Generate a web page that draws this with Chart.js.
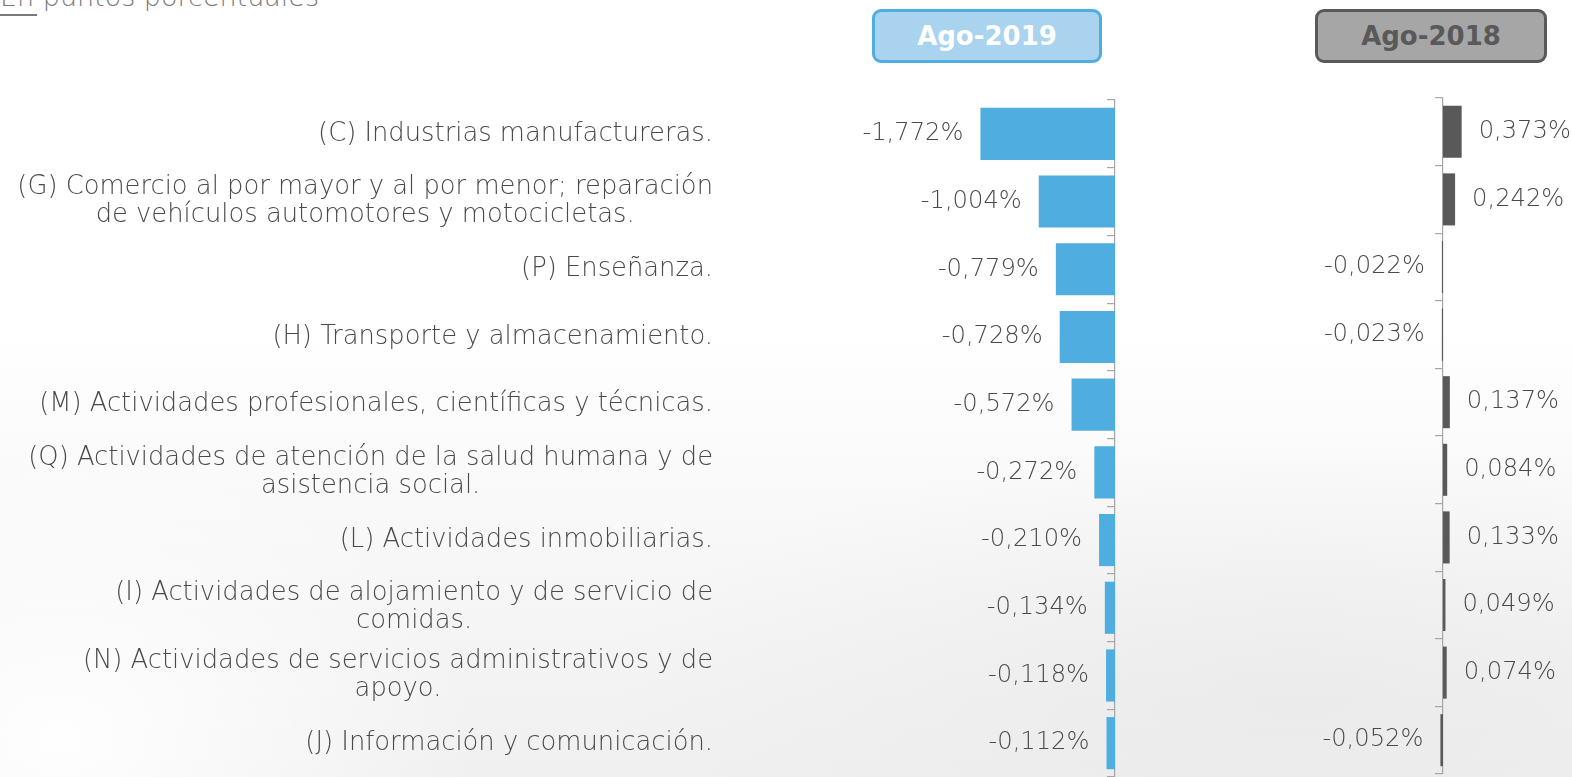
<!DOCTYPE html>
<html>
<head>
<meta charset="utf-8">
<script src="https://cdn.jsdelivr.net/npm/chart.js@4/dist/chart.umd.min.js"></script>
<style>
  html, body { margin: 0; padding: 0; width: 1572px; height: 777px; overflow: hidden; }
  body {
    position: relative;
    background:
      radial-gradient(ellipse 420px 300px at 60px 740px, rgba(255,255,255,0.95), rgba(255,255,255,0) 100%),
      radial-gradient(ellipse 700px 260px at 1300px 700px, rgba(228,228,230,0.5), rgba(228,228,230,0) 100%),
      linear-gradient(to bottom, #ffffff 0%, #ffffff 42%, #f5f5f5 80%, #f0f0f0 100%);
    font-family: "DejaVu Sans", sans-serif;
  }
  #note { position: absolute; left: 0; top: -17px; font-size: 27px; line-height: 27px; color: #7a7a7a; font-weight: 200; white-space: nowrap; }
  #noteline { position: absolute; left: 0; top: 14px; width: 37px; height: 2px; background: #7a7a7a; }
  .hdr { position: absolute; top: 9px; height: 48px; box-sizing: content-box; border-radius: 9px; border-width: 3px; border-style: solid;
         font-family: "DejaVu Sans", sans-serif; font-weight: 700; font-size: 26px; line-height: 48px; text-align: center; }
  #h1 { left: 872px; width: 224px; background: #a9d3ee; border-color: #4fade0; color: #ffffff; }
  #h2 { left: 1315px; width: 226px; background: #a6a6a6; border-color: #595959; color: #595959; }
  .wrap { position: absolute; top: 0; height: 777px; }
  #w1 { left: 0; width: 1130px; }
  #w2 { left: 1130px; width: 442px; }
</style>
</head>
<body>
<div id="note">En puntos porcentuales</div>
<div id="noteline"></div>
<div class="hdr" id="h1">Ago-2019</div>
<div class="hdr" id="h2">Ago-2018</div>
<div class="wrap" id="w1"><canvas id="c1" width="1130" height="777"></canvas></div>
<div class="wrap" id="w2"><canvas id="c2" width="442" height="777"></canvas></div>
<script>
// ---- data ----
const categories = [
  ['(C) Industrias manufactureras.'],
  ['(G) Comercio al por mayor y al por menor; reparación', 'de vehículos automotores y motocicletas.'],
  ['(P) Enseñanza.'],
  ['(H) Transporte y almacenamiento.'],
  ['(M) Actividades profesionales, científicas y técnicas.'],
  ['(Q) Actividades de atención de la salud humana y de', 'asistencia social.'],
  ['(L) Actividades inmobiliarias.'],
  ['(I) Actividades de alojamiento y de servicio de', 'comidas.'],
  ['(N) Actividades de servicios administrativos y de', 'apoyo.'],
  ['(J) Información y comunicación.']
];
const values2019 = [-1.772, -1.004, -0.779, -0.728, -0.572, -0.272, -0.210, -0.134, -0.118, -0.112];
const values2018 = [0.373, 0.242, -0.022, -0.023, 0.137, 0.084, 0.133, 0.049, 0.074, -0.052];
const seriesNames = ['Ago-2019', 'Ago-2018'];

// ---- styling ----
const TEXT_COLOR = '#4a4a4a';
const AXIS_COLOR = '#a6a6a6';
const FAMILY = '"DejaVu Sans", sans-serif';
const WEIGHT = '200';
const LABEL_RIGHT = 713;
const LABEL_TARGET_W = 673;   // width of the widest category line in the picture
const VALUE_TARGET_W = 101;   // width of "-1,772%" in the picture

function fmt(v) { return v.toFixed(3).replace('.', ',') + '%'; }

function fitSize(text, target) {
  const c = document.createElement('canvas').getContext('2d');
  c.font = WEIGHT + ' 100px ' + FAMILY;
  return Math.round(target / c.measureText(text).width * 1000) / 10;
}
const labelSize = fitSize('(M) Actividades profesionales, científicas y técnicas.', LABEL_TARGET_W);
const valueSize = fitSize(fmt(-1.772), VALUE_TARGET_W);
const LABEL_FONT = WEIGHT + ' ' + labelSize + 'px ' + FAMILY;
const VALUE_FONT = WEIGHT + ' ' + valueSize + 'px ' + FAMILY;
const LABEL_LINE_H = 28;

const valueLabelPlugin = {
  id: 'valueLabels',
  afterDatasetsDraw(chart) {
    const ctx = chart.ctx;
    const meta = chart.getDatasetMeta(0);
    const data = chart.data.datasets[0].data;
    ctx.save();
    ctx.font = VALUE_FONT;
    ctx.fillStyle = TEXT_COLOR;
    ctx.textBaseline = 'middle';
    meta.data.forEach((bar, i) => {
      const v = data[i];
      if (v < 0) {
        ctx.textAlign = 'right';
        ctx.fillText(fmt(v), Math.min(bar.x, bar.base) - 17, bar.y);
      } else {
        ctx.textAlign = 'left';
        ctx.fillText(fmt(v), Math.max(bar.x, bar.base) + 17, bar.y);
      }
    });
    ctx.restore();
  }
};

const catLabelPlugin = {
  id: 'catLabels',
  afterDraw(chart) {
    const ctx = chart.ctx;
    const yScale = chart.scales.y;
    ctx.save();
    ctx.font = LABEL_FONT;
    ctx.fillStyle = TEXT_COLOR;
    ctx.textAlign = 'center';
    ctx.textBaseline = 'middle';
    chart.data.labels.forEach((lab, i) => {
      const lines = Array.isArray(lab) ? lab : [lab];
      const w = Math.max(...lines.map(l => ctx.measureText(l).width));
      const cx = LABEL_RIGHT - w / 2;
      const yc = yScale.getPixelForValue(i);
      lines.forEach((l, k) => ctx.fillText(l, cx, yc + (k - (lines.length - 1) / 2) * LABEL_LINE_H));
    });
    ctx.restore();
  }
};

function makeChart(canvasId, label, values, color, xMin, xMax, padding, plugins) {
  return new Chart(document.getElementById(canvasId), {
    type: 'bar',
    data: {
      labels: categories,
      datasets: [{
        label: label,
        data: values,
        backgroundColor: color,
        borderWidth: 0,
        barPercentage: 0.77,
        categoryPercentage: 1.0
      }]
    },
    options: {
      indexAxis: 'y',
      responsive: false,
      animation: false,
      layout: { padding: padding },
      plugins: { legend: { display: false }, tooltip: { enabled: false }, title: { display: false } },
      scales: {
        x: { display: false, min: xMin, max: xMax },
        y: {
          position: { x: 0 },
          ticks: { display: false },
          grid: { drawOnChartArea: false, drawTicks: true, tickLength: 7, color: AXIS_COLOR, lineWidth: 1.2, offset: true },
          border: { display: true, color: AXIS_COLOR, width: 1.2 }
        }
      }
    },
    plugins: plugins
  });
}

makeChart('c1', seriesNames[0], values2019, '#4fade0', -5.07, 0,
  { left: 730, right: 15, top: 100, bottom: 0 }, [valueLabelPlugin, catLabelPlugin]);
makeChart('c2', seriesNames[1], values2018, '#595959', -6.26, 2.58,
  { left: 0, right: 0, top: 98, bottom: 3 }, [valueLabelPlugin]);
</script>
</body>
</html>
